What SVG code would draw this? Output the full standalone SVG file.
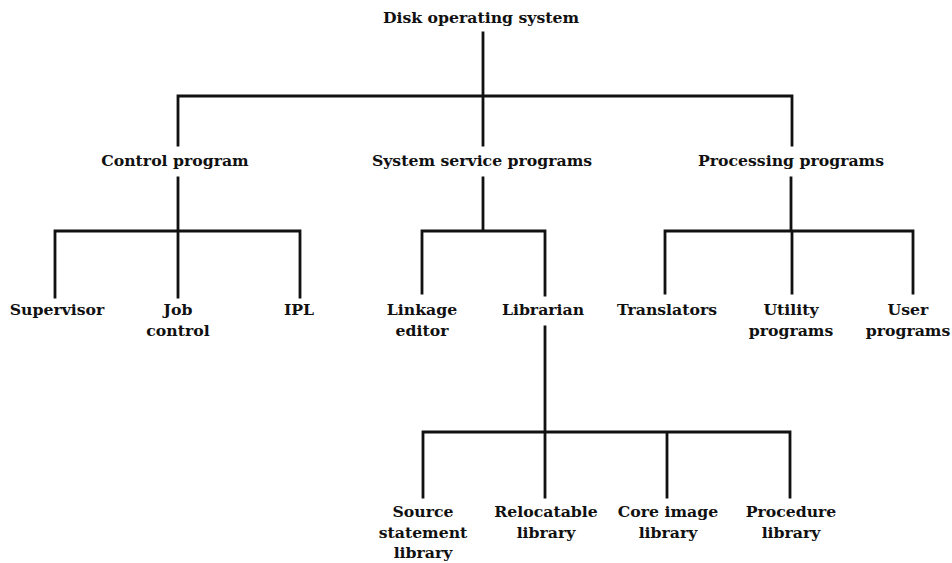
<svg xmlns="http://www.w3.org/2000/svg" width="952" height="563" viewBox="0 0 952 563">
<style>
text{font-family:"DejaVu Serif",serif;font-size:15.7px;font-weight:bold;fill:#111;text-anchor:middle}
.c{stroke:#111;stroke-width:2.8;fill:none;stroke-linecap:square;stroke-linejoin:miter}
</style>
<rect width="952" height="563" fill="#fff"/>
<g id="connectors">
<path class="c" d="M483,33V145M178,145V96H792V145"/>
<path class="c" d="M178,178V231M55,297V231H300V297M178,231V297"/>
<path class="c" d="M483,178V231M422,293V231H545V295"/>
<path class="c" d="M791,178V231M665,293V231H913V293M792,231V293"/>
<path class="c" d="M545,327V432M423,497V432H790V497M545,432V497M667,432V497"/>
</g>
<g id="n-dos"><text x="481" y="23">Disk operating system</text></g>
<g id="n-control"><text x="175" y="166">Control program</text></g>
<g id="n-service"><text x="482" y="166">System service programs</text></g>
<g id="n-processing"><text x="791" y="166">Processing programs</text></g>
<g id="n-supervisor"><text x="57" y="315">Supervisor</text></g>
<g id="n-job"><text x="178" y="315">Job</text><text x="178" y="336">control</text></g>
<g id="n-ipl"><text x="299" y="315">IPL</text></g>
<g id="n-linkage"><text x="422" y="315">Linkage</text><text x="422" y="336">editor</text></g>
<g id="n-librarian"><text x="543" y="315">Librarian</text></g>
<g id="n-translators"><text x="667" y="315">Translators</text></g>
<g id="n-utility"><text x="791" y="315">Utility</text><text x="791" y="336">programs</text></g>
<g id="n-user"><text x="908" y="315">User</text><text x="908" y="336">programs</text></g>
<g id="n-source"><text x="423" y="517">Source</text><text x="423" y="538">statement</text><text x="423" y="558">library</text></g>
<g id="n-relocatable"><text x="546" y="517">Relocatable</text><text x="546" y="538">library</text></g>
<g id="n-core"><text x="668" y="517">Core image</text><text x="668" y="538">library</text></g>
<g id="n-procedure"><text x="791" y="517">Procedure</text><text x="791" y="538">library</text></g>
</svg>
